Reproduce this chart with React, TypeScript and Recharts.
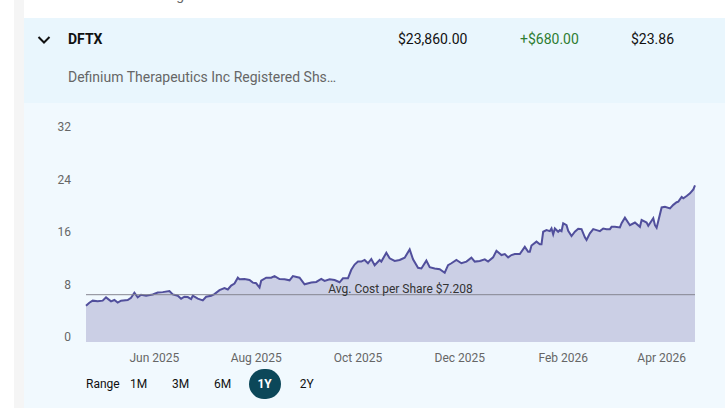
import React from 'react'
import { Area, AreaChart, ReferenceLine, XAxis, YAxis } from 'recharts'

const dates = [
  '2025-04-21', '2025-04-23', '2025-04-25', '2025-04-28', '2025-05-01', '2025-05-03', '2025-05-06', '2025-05-08',
  '2025-05-10', '2025-05-12', '2025-05-16', '2025-05-18', '2025-05-20', '2025-05-22', '2025-05-24', '2025-05-27',
  '2025-05-31', '2025-06-03', '2025-06-06', '2025-06-10', '2025-06-12', '2025-06-15', '2025-06-17', '2025-06-19',
  '2025-06-21', '2025-06-23', '2025-06-24', '2025-06-27', '2025-06-30', '2025-07-02', '2025-07-05', '2025-07-07',
  '2025-07-10', '2025-07-13', '2025-07-15', '2025-07-17', '2025-07-19', '2025-07-21', '2025-07-22', '2025-07-25',
  '2025-07-28', '2025-07-30', '2025-08-01', '2025-08-03', '2025-08-04', '2025-08-07', '2025-08-10', '2025-08-12',
  '2025-08-15', '2025-08-18', '2025-08-21', '2025-08-23', '2025-08-27', '2025-08-30', '2025-09-03', '2025-09-06',
  '2025-09-09', '2025-09-11', '2025-09-14', '2025-09-17', '2025-09-20', '2025-09-22', '2025-09-25', '2025-09-27',
  '2025-09-29', '2025-10-01', '2025-10-03', '2025-10-05', '2025-10-07', '2025-10-09', '2025-10-11', '2025-10-14',
  '2025-10-15', '2025-10-18', '2025-10-20', '2025-10-23', '2025-10-26', '2025-10-29', '2025-11-01', '2025-11-03',
  '2025-11-06', '2025-11-08', '2025-11-11', '2025-11-13', '2025-11-16', '2025-11-19', '2025-11-22', '2025-11-24',
  '2025-11-26', '2025-11-29', '2025-12-02', '2025-12-05', '2025-12-08', '2025-12-10', '2025-12-13', '2025-12-16',
  '2025-12-18', '2025-12-21', '2025-12-23', '2025-12-26', '2025-12-28', '2025-12-30', '2026-01-01', '2026-01-03',
  '2026-01-06', '2026-01-09', '2026-01-11', '2026-01-12', '2026-01-13', '2026-01-16', '2026-01-18', '2026-01-19',
  '2026-01-20', '2026-01-22', '2026-01-24', '2026-01-25', '2026-01-26', '2026-01-27', '2026-01-29', '2026-01-30',
  '2026-01-31', '2026-02-01', '2026-02-03', '2026-02-04', '2026-02-06', '2026-02-08', '2026-02-10', '2026-02-12',
  '2026-02-14', '2026-02-15', '2026-02-17', '2026-02-19', '2026-02-21', '2026-02-23', '2026-02-25', '2026-02-27',
  '2026-03-01', '2026-03-02', '2026-03-04', '2026-03-07', '2026-03-08', '2026-03-10', '2026-03-13', '2026-03-16',
  '2026-03-19', '2026-03-20', '2026-03-23', '2026-03-24', '2026-03-27', '2026-03-28', '2026-03-29', '2026-04-01',
  '2026-04-03', '2026-04-06', '2026-04-08', '2026-04-10', '2026-04-11', '2026-04-13', '2026-04-14', '2026-04-16',
  '2026-04-18', '2026-04-20', '2026-04-21',
]

const prices = [
  5.53, 5.99, 6.3, 6.2, 6.3, 6.8, 6.2, 6.4,
  6.0, 6.3, 6.4, 6.75, 7.5, 6.8, 7.2, 7.05,
  7.25, 7.55, 7.6, 7.77, 7.25, 7.05, 6.6, 6.9,
  6.85, 6.55, 7.05, 6.6, 6.35, 6.9, 7.05, 7.3,
  7.9, 8.2, 8.0, 8.6, 8.9, 9.8, 9.55, 9.6,
  9.45, 9.05, 8.95, 8.3, 9.35, 9.8, 9.8, 10.05,
  9.6, 9.55, 9.4, 10.05, 9.8, 8.8, 9.05, 9.15,
  9.6, 9.3, 9.55, 9.45, 9.1, 9.7, 9.7, 11.0,
  11.8, 12.25, 12.25, 12.5, 12.0, 12.65, 11.7, 12.5,
  12.25, 13.6, 12.75, 12.35, 12.5, 12.85, 14.1, 12.6,
  11.3, 11.2, 12.4, 11.4, 11.2, 11.1, 10.55, 11.7,
  12.0, 12.5, 12.0, 12.25, 12.85, 12.25, 12.35, 12.6,
  12.25, 12.9, 13.9, 13.25, 13.4, 12.9, 13.25, 13.4,
  13.4, 14.5, 13.75, 13.75, 14.7, 15.3, 14.9, 14.9,
  16.8, 17.05, 16.9, 17.3, 16.4, 17.3, 16.8, 17.05,
  16.9, 18.1, 17.8, 16.95, 16.15, 16.8, 17.25, 17.2,
  15.95, 15.55, 16.55, 17.2, 17.05, 16.9, 17.3, 17.2,
  17.2, 17.55, 17.55, 17.45, 18.1, 18.95, 17.8, 18.2,
  17.55, 18.6, 18.2, 17.7, 18.85, 17.8, 17.4, 20.5,
  20.6, 20.35, 20.9, 21.3, 21.4, 22.1, 21.9, 22.25,
  22.65, 23.25, 23.86,
]

const tickDates = ['2025-06-01', '2025-08-01', '2025-10-01', '2025-12-01', '2026-02-01', '2026-04-01']
const tickLabels = ['Jun 2025', 'Aug 2025', 'Oct 2025', 'Dec 2025', 'Feb 2026', 'Apr 2026']
const yTicks = [0, 8, 16, 24, 32]
const avgCost = 7.208
const ranges = ['1M', '3M', '6M', '1Y', '2Y']
const activeRange = '1Y'

const data = dates.map((d, i) => ({ t: Date.parse(d), price: prices[i] }))
const tickTimes = tickDates.map((d) => Date.parse(d))

const font = 'Roboto, "Noto Sans", sans-serif'

const App = () => {
  return (
    <div style={{ position: 'absolute', left: 0, top: 0, width: 725, height: 408, background: '#fff', fontFamily: font, overflow: 'hidden' }}>
      {/* left gray strip */}
      <div style={{ position: 'absolute', left: 14, top: 0, width: 10, height: 408, background: '#f5f5f5' }} />
      {/* cut-off row above */}
      <div style={{ position: 'absolute', left: 60, top: -13, width: 124, textAlign: 'right', fontSize: 14, color: '#666' }}>Holding</div>

      {/* header band */}
      <div style={{ position: 'absolute', left: 24, top: 18, width: 701, height: 85, background: '#e9f6fd' }}>
        <svg style={{ position: 'absolute', left: 13, top: 17 }} width="14" height="10">
          <polyline points="1.5,2 7,7.5 12.5,2" fill="none" stroke="#111" strokeWidth="2" />
        </svg>
        <div style={{ position: 'absolute', left: 44, top: 13, fontSize: 14, fontWeight: 700, color: '#111' }}>DFTX</div>
        <div style={{ position: 'absolute', left: 374, top: 13, fontSize: 14, color: '#111' }}>$23,860.00</div>
        <div style={{ position: 'absolute', left: 496, top: 13, fontSize: 14, color: '#2e7d32' }}>+$680.00</div>
        <div style={{ position: 'absolute', left: 607, top: 13, fontSize: 14, color: '#111' }}>$23.86</div>
        <div style={{ position: 'absolute', left: 44, top: 51, fontSize: 14, color: '#666' }}>Definium Therapeutics Inc Registered Shs…</div>
      </div>

      {/* chart band */}
      <div style={{ position: 'absolute', left: 24, top: 103, width: 701, height: 305, background: '#f1f9fe' }}>
        <AreaChart width={701} height={269} data={data} margin={{ top: 29, right: 30, left: 0, bottom: 0 }}>
          <XAxis
            dataKey="t"
            type="number"
            scale="time"
            domain={['dataMin', 'dataMax']}
            ticks={tickTimes}
            tickFormatter={(v: number) => tickLabels[tickTimes.indexOf(v)] ?? ''}
            axisLine={false}
            tickLine={false}
            tickSize={0}
            tickMargin={11}
            height={30}
            tick={{ fontSize: 12, fill: '#666' }}
          />
          <YAxis
            domain={[0, 32]}
            ticks={yTicks}
            axisLine={false}
            tickLine={false}
            tickSize={0}
            tickMargin={15}
            width={62}
            tick={{ fontSize: 12, fill: '#666', dy: -5 }}
          />
          <Area
            type="linear"
            dataKey="price"
            stroke="#514f9c"
            strokeWidth={2}
            fill="#cbcfe5"
            fillOpacity={1}
            isAnimationActive={false}
          />
          <ReferenceLine
            y={avgCost}
            stroke="#868690"
            strokeWidth={1}
            label={{ value: `Avg. Cost per Share $${avgCost}`, position: 'top', offset: 2, dx: 10, fill: '#333', fontSize: 12 }}
          />
        </AreaChart>

        {/* range selector */}
        <div style={{ position: 'absolute', left: 62, top: 266, height: 30, display: 'flex', alignItems: 'center', fontSize: 12, color: '#111' }}>
          <span style={{ marginRight: 3 }}>Range</span>
          {ranges.map((r) => (
            <span
              key={r}
              style={{
                width: 32,
                height: 30,
                marginRight: 10,
                borderRadius: 16,
                display: 'inline-flex',
                alignItems: 'center',
                justifyContent: 'center',
                background: r === activeRange ? '#0c4759' : 'transparent',
                color: r === activeRange ? '#fff' : '#111',
                fontWeight: r === activeRange ? 700 : 400,
              }}
            >
              {r}
            </span>
          ))}
        </div>
      </div>
    </div>
  )
}

export default App
